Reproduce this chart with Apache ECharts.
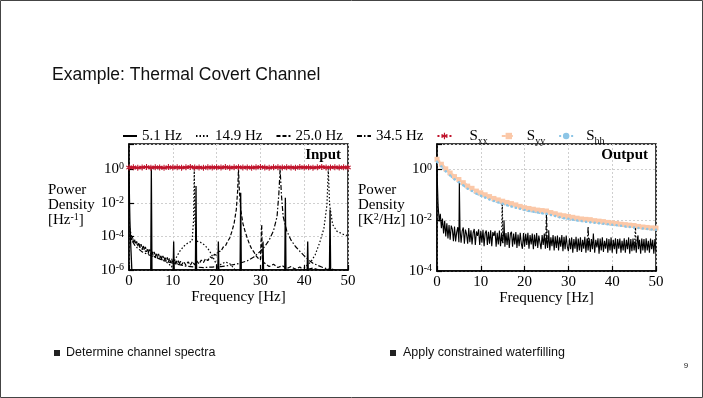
<!DOCTYPE html>
<html><head><meta charset="utf-8">
<script src="https://cdn.jsdelivr.net/npm/echarts@6/dist/echarts.min.js"></script>
<style>html,body{margin:0;padding:0;background:#fff}#c{width:703px;height:398px}</style>
</head><body><div id="c"></div>
<script>
// ---------- DATA ----------
const seriesNames = ['5.1 Hz', '14.9 Hz', '25.0 Hz', '34.5 Hz', 'Sxx', 'Syy', 'Shh'];
const xTicks = [0, 10, 20, 30, 40, 50];

// Input panel (power density, Hz^-1), [frequency, value]
const in51 = [[0,1],[0.1,0.02],[0.2,1e-3],[0.4,3e-5],[0.7,5e-7],[4.95,4e-7],[5.1,1],[5.25,4e-7],[10.05,4e-7],[10.2,5e-5],[10.35,4e-7],[15.15,4e-7],[15.3,0.1],[15.45,4e-7],[20.25,4e-7],[20.4,5e-5],[20.55,4e-7],[25.35,4e-7],[25.5,0.04],[25.65,4e-7],[30.45,4e-7],[30.6,5e-5],[30.75,4e-7],[35.55,4e-7],[35.7,0.02],[35.85,4e-7],[40.65,4e-7],[40.8,5e-5],[40.95,4e-7],[45.75,4e-7],[45.9,4e-3],[46.05,4e-7],[50,4e-7]];
const in149 = [[0.2,3e-4],[0.5,1.2e-4],[1,6e-5],[2,3e-5],[3,1.8e-5],[4,1.2e-5],[5,8e-6],[6,6e-6],[7,4.5e-6],[8,3.5e-6],[9,2.5e-6],[9.7,1.5e-6],[10.5,4e-6],[11.5,1.2e-5],[12.5,2.6e-5],[13.5,4.2e-5],[14.4,5.2e-5],[14.75,1e-3],[14.9,1],[15.05,1e-3],[15.4,5.3e-5],[16.3,4.5e-5],[17.3,3e-5],[18.3,1.5e-5],[19.3,5e-6],[20.3,1.4e-6],[21,2.2e-6],[22,3e-6],[23,2.4e-6],[24,1.2e-6],[25,6e-7],[38,6e-7],[40,1.3e-6],[41.5,3e-6],[42.5,8e-6],[43.5,4e-5],[44.5,3e-4],[45.2,8e-3],[45.5,1],[45.8,8e-3],[46.5,5e-4],[47.5,2e-4],[49,1.3e-4],[50,1.1e-4]];
const in250 = [[0.25,1.3e-4],[0.5,6e-5],[0.75,9e-5],[1,4.5e-5],[1.25,7e-5],[1.5,3.4e-5],[1.75,5e-5],[2,2.6e-5],[2.25,4.4e-5],[2.5,2.2e-5],[2.75,3.5e-5],[3,1.7e-5],[3.25,3e-5],[3.5,1.5e-5],[3.75,2.4e-5],[4,1.2e-5],[4.25,2e-5],[4.5,1e-5],[4.75,1.7e-5],[5,8.5e-6],[5.25,1.4e-5],[5.5,7.5e-6],[5.75,1.2e-5],[6,6e-6],[6.25,1.05e-5],[6.5,5.5e-6],[6.75,9e-6],[7,4.5e-6],[7.25,8e-6],[7.5,4.2e-6],[7.75,7e-6],[8,3.6e-6],[8.25,6.2e-6],[8.5,3.3e-6],[8.75,5.6e-6],[9,3e-6],[9.25,5e-6],[9.5,2.8e-6],[9.75,4.6e-6],[10,2.5e-6],[10.25,4.2e-6],[10.5,2.3e-6],[10.75,3.9e-6],[11,2.2e-6],[11.25,3.6e-6],[11.5,2.1e-6],[11.75,3.4e-6],[12,2e-6],[12.5,3.2e-6],[13,1.9e-6],[13.5,3.1e-6],[14,1.9e-6],[14.5,3.2e-6],[15,2e-6],[15.5,3.4e-6],[16,2.3e-6],[16.5,3.9e-6],[17,2.8e-6],[17.5,4.8e-6],[18,3.6e-6],[18.5,6.2e-6],[19,5e-6],[19.5,8.5e-6],[20,7.5e-6],[20.5,1.3e-5],[21,1.3e-5],[21.5,2.3e-5],[22,2.6e-5],[22.5,5e-5],[23,8e-5],[23.5,2e-4],[24,6e-4],[24.5,4e-3],[24.8,5e-2],[25,1],[25.2,5e-2],[25.5,4e-3],[26,6e-4],[26.5,2e-4],[27,8e-5],[27.5,3.5e-5],[28,1.8e-5],[28.5,1.2e-5],[29,7e-6],[29.5,5e-6],[30,4e-6],[30.15,4e-6],[30.3,5e-4],[30.45,3.5e-6],[31,2.5e-6],[32,1.6e-6],[33,2.2e-6],[34,1.4e-6],[35,1.8e-6],[36,1.2e-6],[37,1.6e-6],[38,1.1e-6],[39,1.5e-6],[40,1e-6],[42,1.3e-6],[44,9e-7],[46,1.2e-6],[48,8e-7],[50,1e-6]];
const in345 = [[0.2,2e-4],[0.6,6e-5],[1.5,2.5e-5],[3,1.2e-5],[5,7e-6],[7,4.5e-6],[9,3e-6],[11,2.2e-6],[13,1.7e-6],[15,1.5e-6],[17,1.4e-6],[19,1.5e-6],[21,1.6e-6],[23,1.9e-6],[25,2.4e-6],[27,3.5e-6],[28.5,6e-6],[30,1.3e-5],[31,2.5e-5],[32,6e-5],[33,2.2e-4],[33.8,1.5e-3],[34.2,3e-2],[34.5,1],[34.8,3e-2],[35.2,1.5e-3],[36,2.2e-4],[37,6e-5],[38,2.5e-5],[39,1.3e-5],[40,7e-6],[41,4e-6],[42,2.5e-6],[44,1.5e-6],[46,1e-6],[48,8e-7],[50,6e-7]];
// Sxx input, one value per Hz from 0 to 50
const sxxStep = 1;
const sxxIn = [1.25,1.3,1.22,1.28,1.35,1.24,1.3,1.27,1.21,1.33,1.26,1.3,1.24,1.29,1.36,1.25,1.28,1.22,1.31,1.27,1.3,1.25,1.34,1.23,1.29,1.32,1.26,1.28,1.24,1.3,1.35,1.27,1.22,1.29,1.31,1.25,1.3,1.28,1.23,1.33,1.27,1.3,1.24,1.29,1.36,1.26,1.28,1.31,1.25,1.3,1.27];

// Output panel (K^2/Hz)
const outStep = 1;
const syyOut = [2.5,1.6,1.05,0.72,0.52,0.4,0.3,0.22,0.18,0.14,0.12,0.1,0.085,0.072,0.063,0.056,0.05,0.045,0.04,0.035,0.031,0.029,0.027,0.025,0.024,0.023,0.02,0.018,0.016,0.015,0.014,0.013,0.012,0.0112,0.0108,0.0105,0.0096,0.0092,0.0088,0.0082,0.0078,0.0074,0.007,0.0067,0.0064,0.0062,0.0057,0.0054,0.0052,0.005,0.0049];
const shhOut = [2.0,1.3,0.85,0.57,0.41,0.31,0.235,0.175,0.14,0.11,0.092,0.078,0.066,0.057,0.05,0.044,0.039,0.035,0.031,0.028,0.025,0.023,0.0215,0.02,0.0188,0.0178,0.016,0.0145,0.013,0.012,0.0113,0.0105,0.0098,0.0092,0.0087,0.0083,0.008,0.0076,0.0073,0.0069,0.0066,0.0063,0.006,0.0057,0.0054,0.0052,0.0049,0.0047,0.0045,0.0043,0.0042];
// noise floor of the 5.1 Hz output, every 0.25 Hz from 0.25 to 50
const outNoiseStep = 0.25;
const outNoise51 = [40e-3,9e-3,18e-3,4.8e-3,11.5e-3,3.0e-3,9.4e-3,2.3e-3,7.5e-3,1.9e-3,
6.5e-3,1.7e-3,6.1e-3,4.4e-3,1.5e-3,5.6e-3,1.45e-3,3.4e-3,5.3e-3,1.35e-3,
4.7e-3,1.3e-3,3.8e-3,5.2e-3,1.2e-3,4.3e-3,2.8e-3,1.2e-3,4.9e-3,1.35e-3,
4.0e-3,1.1e-3,3.2e-3,4.5e-3,1.05e-3,3.6e-3,2.4e-3,4.4e-3,1.05e-3,3.8e-3,
1.3e-3,4.2e-3,0.95e-3,3.1e-3,3.9e-3,1.05e-3,3.5e-3,1.2e-3,4.0e-3,0.95e-3,
3.4e-3,2.4e-3,3.8e-3,0.9e-3,3.2e-3,1.1e-3,3.9e-3,0.95e-3,2.9e-3,1.3e-3,
3.6e-3,0.9e-3,3.1e-3,1.05e-3,3.4e-3,0.8e-3,2.9e-3,3.5e-3,0.9e-3,3.0e-3,
1.1e-3,3.4e-3,0.8e-3,2.7e-3,0.95e-3,3.2e-3,1.2e-3,0.75e-3,3.1e-3,0.9e-3,
2.9e-3,1.05e-3,3.2e-3,0.75e-3,2.6e-3,1.1e-3,3.0e-3,0.72e-3,2.7e-3,0.95e-3,
3.1e-3,0.8e-3,2.5e-3,2.9e-3,0.72e-3,2.6e-3,1.05e-3,3.0e-3,0.75e-3,2.5e-3,
0.8e-3,2.6e-3,0.65e-3,2.1e-3,0.95e-3,2.6e-3,0.65e-3,2.3e-3,0.8e-3,2.5e-3,
0.65e-3,2.1e-3,0.9e-3,2.6e-3,0.6e-3,2.2e-3,0.72e-3,2.5e-3,0.92e-3,0.6e-3,
1.95e-3,0.72e-3,2.1e-3,0.52e-3,1.8e-3,0.76e-3,2.2e-3,0.56e-3,1.9e-3,0.64e-3,
2.1e-3,0.56e-3,1.7e-3,0.76e-3,2.2e-3,0.52e-3,1.9e-3,0.64e-3,1.95e-3,0.56e-3,
1.8e-3,0.72e-3,2.1e-3,0.52e-3,1.7e-3,0.84e-3,1.95e-3,0.48e-3,1.9e-3,0.64e-3,
2.1e-3,0.56e-3,1.55e-3,0.76e-3,1.95e-3,0.52e-3,1.8e-3,0.64e-3,2.1e-3,0.52e-3,
1.7e-3,0.72e-3,1.95e-3,0.48e-3,1.8e-3,0.76e-3,1.9e-3,0.52e-3,1.55e-3,0.64e-3,
1.95e-3,0.52e-3,1.7e-3,0.72e-3,2.1e-3,0.48e-3,1.8e-3,0.6e-3,1.9e-3,0.64e-3,
1.55e-3,0.52e-3,1.95e-3,0.72e-3,1.7e-3,0.48e-3,1.9e-3,0.64e-3,1.8e-3,0.52e-3,
1.95e-3,0.64e-3,1.55e-3,0.52e-3,1.9e-3,0.72e-3,1.7e-3,0.48e-3,1.8e-3,0.6e-3];
const out51Spikes = [[0,1],[0.1,0.9],[5.1,0.35],[15.3,0.01],[25.5,4e-3],[35.7,3e-3],[45.9,2.5e-3]];
const out149 = [[14.75,1.5e-3],[14.9,0.056],[15.05,1.2e-3],[30,'-'],[45.15,1.2e-3],[45.3,6e-3],[45.45,1e-3]];
const out250 = [[24.85,1.4e-3],[25.0,0.022],[25.15,1.2e-3]];
const out345 = [[34.35,1.2e-3],[34.5,5.6e-3],[34.65,1e-3]];

// ---------- CHART ----------
const serif = '"Liberation Serif", "DejaVu Serif", serif';
const sans = '"Liberation Sans", Arial, sans-serif';
const out51 = outNoise51.map((v, i) => [(i + 1) * outNoiseStep, v]).concat(out51Spikes).sort((a, b) => a[0] - b[0]);
const byStep = (arr, step) => arr.map((v, i) => [i * step, v]);

const RED = '#c0142c', PEACH = '#fbc8a8', BLUE = '#8cc5e6';
const STAR = 'path://M-1,-6H1V-1.7L4.7,-3.9L5.7,-2.2L2,0L5.7,2.2L4.7,3.9L1,1.7V6H-1V1.7L-4.7,3.9L-5.7,2.2L-2,0L-5.7,-2.2L-4.7,-3.9L-1,-1.7Z';

function expLabel(v) {
  const l = Math.log10(v), e = Math.round(l);
  if (Math.abs(l - e) > 1e-6 || e % 2 !== 0) return '';
  return '{b|10}{s|' + e + '}';
}
const labelRich = {
  b: { fontFamily: serif, fontSize: 15, color: '#000' },
  s: { fontFamily: serif, fontSize: 10, color: '#000', verticalAlign: 'top' }
};
function xAx(gi) {
  return {
    gridIndex: gi, type: 'value', min: 0, max: 50, interval: 10,
    axisLine: { show: true, onZero: false, lineStyle: { color: '#000', width: 1.5 } },
    axisTick: { show: true, inside: true, length: 5, lineStyle: { color: '#000', width: 1.2 } },
    axisLabel: { color: '#000', fontFamily: serif, fontSize: 15, margin: 4 },
    splitLine: { show: true, lineStyle: { color: '#cfcfcf', type: [2, 2], width: 1 } },
    name: 'Frequency [Hz]', nameLocation: 'middle', nameGap: 19,
    nameTextStyle: { color: '#000', fontFamily: serif, fontSize: 15 }
  };
}
function yAx(gi, mn, mx) {
  return {
    gridIndex: gi, type: 'log', logBase: 100, min: mn, max: mx,
    axisLine: { show: true, lineStyle: { color: '#000', width: 1.5 } },
    axisTick: { show: true, inside: true, length: 5, lineStyle: { color: '#000', width: 1.2 } },
    axisLabel: { formatter: expLabel, margin: 5, rich: labelRich },
    splitLine: { show: true, lineStyle: { color: '#cfcfcf', type: [2, 2], width: 1 } }
  };
}
function blk(name, data, gi, type, w) {
  return {
    name, type: 'line', xAxisIndex: gi, yAxisIndex: gi, data, symbol: 'none',
    lineStyle: { color: '#000', width: w || 1.2, type: type },
    itemStyle: { color: '#000' }, z: 2
  };
}
const DOT = [1.5, 2], DASH = [4, 2], DASHDOT = [5, 2, 1.5, 2];

const legendData = seriesNames.map(n => {
  if (n === 'Sxx') return { name: n, lineStyle: { type: [2, 2], width: 2 } };
  if (n === 'Syy' || n === 'Shh') return { name: n };
  return { name: n, itemStyle: { opacity: 0 } };
});

const option = {
  animation: false,
  backgroundColor: '#fff',
  grid: [
    { left: 129, top: 144, width: 219, height: 126, show: true, borderColor: '#000', borderWidth: 1.5, outerBoundsMode: 'none' },
    { left: 437, top: 144, width: 219, height: 127, show: true, borderColor: '#000', borderWidth: 1.5, outerBoundsMode: 'none' }
  ],
  xAxis: [xAx(0), xAx(1)],
  yAxis: [yAx(0, 1e-6, 31.6228), yAx(1, 1e-4, 10)],
  legend: {
    left: 117, top: 121, itemWidth: 14, itemHeight: 8, itemGap: 13,
    textStyle: { fontFamily: serif, fontSize: 15, color: '#000', lineHeight: 20,
      rich: {
        sub: { fontFamily: serif, fontSize: 10, color: '#000', verticalAlign: 'bottom' },
        px: { width: 13 }, py: { width: 6 }, ph: { width: 8 }
      } },
    formatter: n => n === 'Sxx' ? '{px|}S{sub|xx}' : n === 'Syy' ? '{py|}S{sub|yy}' : n === 'Shh' ? '{ph|}S{sub|hh}' : n,
    data: legendData
  },
  series: [
    blk('5.1 Hz', in51, 0, 'solid', 1.3),
    blk('14.9 Hz', in149, 0, DOT),
    blk('25.0 Hz', in250, 0, DASH),
    blk('34.5 Hz', in345, 0, DASHDOT),
    { name: 'Sxx', type: 'line', xAxisIndex: 0, yAxisIndex: 0, data: byStep(sxxIn, sxxStep),
      symbol: STAR, symbolSize: 6, showAllSymbol: true,
      lineStyle: { color: RED, width: 2.2 }, itemStyle: { color: RED }, z: 4 },
    blk('5.1 Hz', out51, 1, 'solid', 1.1),
    blk('14.9 Hz', out149, 1, DOT),
    blk('25.0 Hz', out250, 1, DASH),
    blk('34.5 Hz', out345, 1, DASHDOT),
    { name: 'Syy', type: 'line', xAxisIndex: 1, yAxisIndex: 1, data: byStep(syyOut, outStep),
      symbol: 'rect', symbolSize: 5, showAllSymbol: true,
      lineStyle: { color: PEACH, width: 3, type: [4, 3] }, itemStyle: { color: PEACH }, z: 3 },
    { name: 'Shh', type: 'line', xAxisIndex: 1, yAxisIndex: 1, data: byStep(shhOut, outStep),
      symbol: 'circle', symbolSize: 2.5, showAllSymbol: true,
      lineStyle: { color: BLUE, width: 2, type: [2, 2] }, itemStyle: { color: BLUE }, z: 3 }
  ],
  graphic: [
    { type: 'rect', shape: { x: 0.5, y: 0.5, width: 702, height: 397 }, style: { fill: 'none', stroke: '#444', lineWidth: 1 }, silent: true },
    { type: 'text', style: { text: 'Example: Thermal Covert Channel', x: 52, y: 75, font: '17.5px ' + sans, fill: '#111', textVerticalAlign: 'middle', verticalAlign: 'middle' } },
    { type: 'text', style: { text: 'Power', x: 48, y: 190, font: '15px ' + serif, fill: '#000', textVerticalAlign: 'middle', verticalAlign: 'middle' } },
    { type: 'text', style: { text: 'Density', x: 48, y: 205, font: '15px ' + serif, fill: '#000', textVerticalAlign: 'middle', verticalAlign: 'middle' } },
    { type: 'text', style: { text: '[Hz{s|-1}]', x: 48, y: 220, font: '15px ' + serif, fill: '#000', textVerticalAlign: 'middle', verticalAlign: 'middle', rich: { s: { fontFamily: serif, fontSize: 10, verticalAlign: 'top', fill: '#000' } } } },
    { type: 'text', style: { text: 'Power', x: 358, y: 190, font: '15px ' + serif, fill: '#000', textVerticalAlign: 'middle', verticalAlign: 'middle' } },
    { type: 'text', style: { text: 'Density', x: 358, y: 205, font: '15px ' + serif, fill: '#000', textVerticalAlign: 'middle', verticalAlign: 'middle' } },
    { type: 'text', style: { text: '[K{s|2}/Hz]', x: 358, y: 220, font: '15px ' + serif, fill: '#000', textVerticalAlign: 'middle', verticalAlign: 'middle', rich: { s: { fontFamily: serif, fontSize: 10, verticalAlign: 'top', fill: '#000' } } } },
    { type: 'text', z: 10, style: { text: 'Input', x: 341, y: 155, font: 'bold 15px ' + serif, fill: '#000', textAlign: 'right', align: 'right', textVerticalAlign: 'middle', verticalAlign: 'middle' } },
    { type: 'text', z: 10, style: { text: 'Output', x: 648, y: 155, font: 'bold 15px ' + serif, fill: '#000', textAlign: 'right', align: 'right', textVerticalAlign: 'middle', verticalAlign: 'middle' } },
    { type: 'rect', shape: { x: 54, y: 350, width: 6, height: 6 }, style: { fill: '#222' } },
    { type: 'text', style: { text: 'Determine channel spectra', x: 66, y: 353, font: '12.5px ' + sans, fill: '#111', textVerticalAlign: 'middle', verticalAlign: 'middle' } },
    { type: 'rect', shape: { x: 390, y: 350, width: 6, height: 6 }, style: { fill: '#222' } },
    { type: 'text', style: { text: 'Apply constrained waterfilling', x: 403, y: 353, font: '12.5px ' + sans, fill: '#111', textVerticalAlign: 'middle', verticalAlign: 'middle' } },
    { type: 'text', style: { text: '9', x: 686, y: 366, font: '8px ' + sans, fill: '#222', textAlign: 'center', align: 'center', textVerticalAlign: 'middle', verticalAlign: 'middle' } }
  ]
};
const chart = echarts.init(document.getElementById('c'), null, { renderer: 'canvas' });
chart.setOption(option);
</script></body></html>
